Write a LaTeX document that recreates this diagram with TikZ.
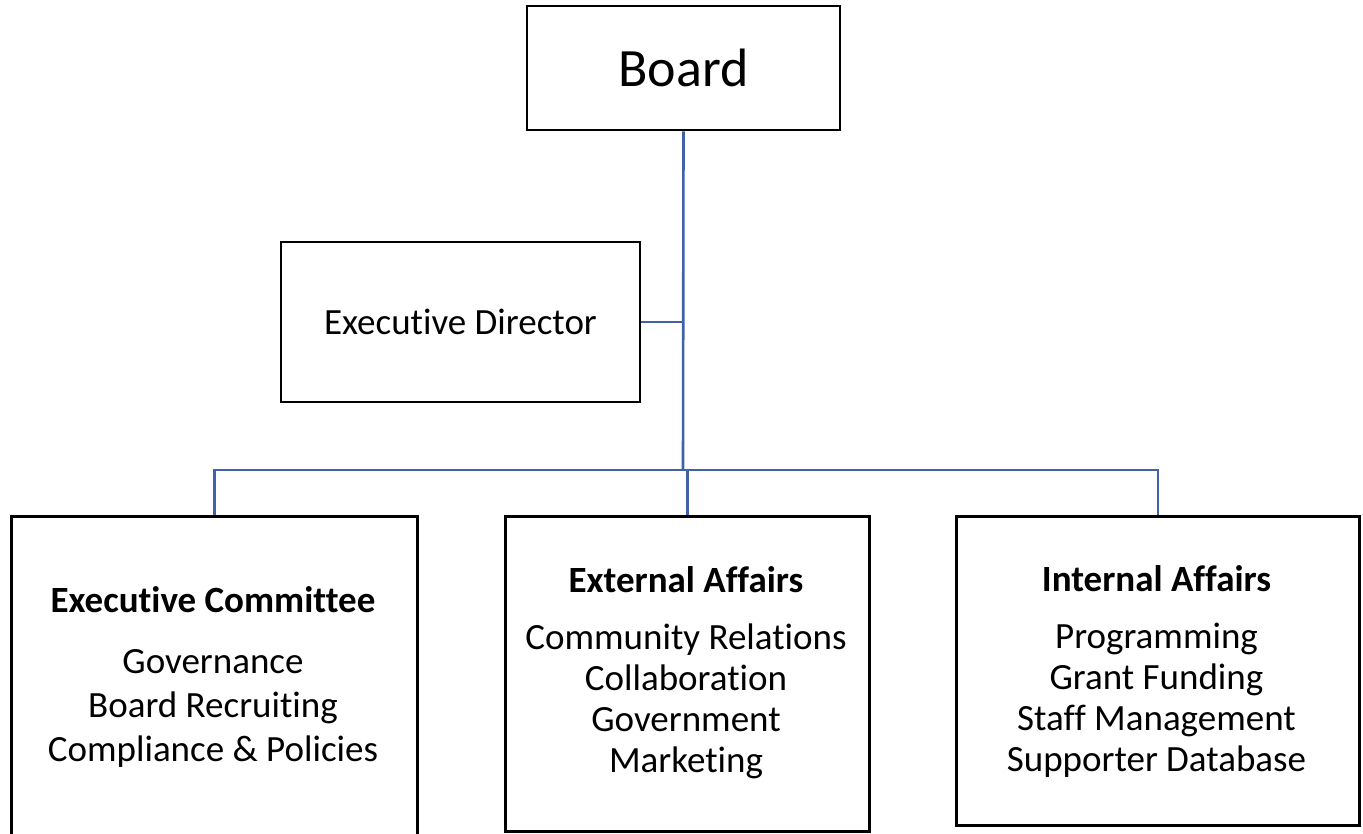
\documentclass[tikz,border=0pt]{standalone}
\usepackage{fontspec}
\setmainfont{Carlito}[Ligatures={NoCommon}]
\usetikzlibrary{positioning}

\definecolor{linkblue}{RGB}{66,98,168}

\tikzset{
    unitbox/.style={draw=black, line width=2.6pt, fill=white, inner sep=0pt},
    link/.style={draw=linkblue, line width=2.6pt},
    boxtext/.style={align=center, font=\fontsize{37}{44}\selectfont},
    boxtextnarrow/.style={align=center, font=\fontsize{37}{41}\selectfont},
}

\begin{document}
\begin{tikzpicture}[x=1pt, y=-1pt]
            \clip (0,0) rectangle (1363,834);
            \fill[white] (0,0) rectangle (1363,834);

            % top of the chart
            \node[unitbox, minimum width=313pt, minimum height=124pt,
                font=\fontsize{54}{60}\selectfont] (board) at (683.5,68) {Board};
            \node[unitbox, minimum width=359pt, minimum height=160pt,
                font=\fontsize{37}{44}\selectfont] (director) at (460.5,322) {Executive Director};

            % the three committees
            \node[unitbox, anchor=north west, minimum width=406pt, minimum height=360pt] (exec) at (10,515) {};
            \node[unitbox, anchor=north west, minimum width=364pt, minimum height=315pt] (external) at (504,515) {};
            \node[unitbox, anchor=north west, minimum width=403pt, minimum height=309pt] (internal) at (955,515) {};

            \node[boxtext] (execlist) at (213,677) {\textbf{Executive Committee}\\[17pt]
                Governance\\ Board Recruiting\\ Compliance \& Policies};
            \node[boxtextnarrow] (externallist) at (686,673) {\textbf{External Affairs}\\[16pt]
                Community Relations\\ Collaboration\\ Government\\ Marketing};
            \node[boxtextnarrow] (internallist) at (1156.5,671) {\textbf{Internal Affairs}\\[16pt]
                Programming\\ Grant Funding\\ Staff Management\\ Supporter Database};

            % connectors
            \coordinate (hub) at (683,470);
            \draw[link] (board.south) -- (hub);
            \draw[link] (director.east) -- (director.east -| hub);
            \draw[link] (exec.north) |- (hub) -| (internal.north);
            \draw[link] (external.north) -- (external.north |- hub);

        \end{tikzpicture}
\end{document}
